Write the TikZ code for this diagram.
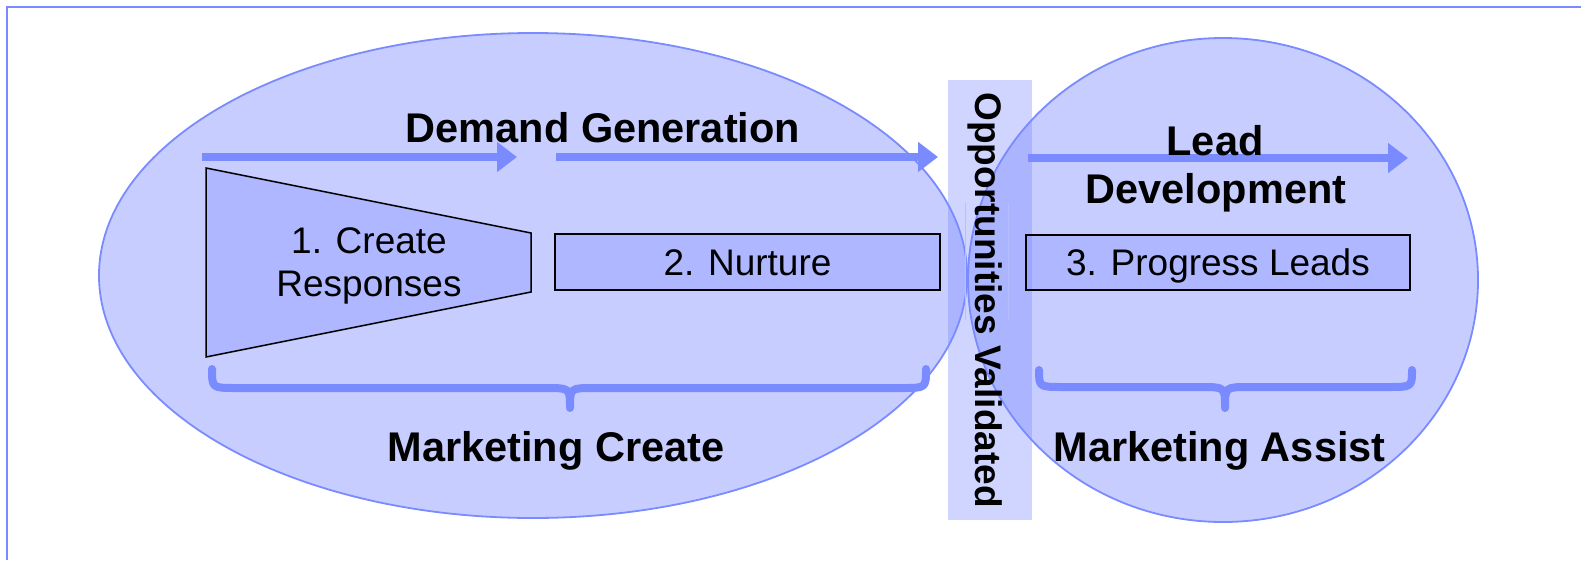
\documentclass[tikz,border=0pt]{standalone}
\usepackage{fontspec}
\setmainfont{Liberation Sans}
\usetikzlibrary{arrows.meta}
\definecolor{lineblue}{RGB}{122,138,255}
\tikzset{
  ringfill/.style={draw=lineblue, line width=1.8pt, fill=lineblue, fill opacity=0.42},
  bandfill/.style={fill=lineblue!36, draw=none},
  stagebox/.style={draw=black, line width=1.5pt, fill=lineblue, fill opacity=0.33, text opacity=1},
  flow/.style={draw=lineblue, line width=7.5pt, -{Triangle[length=20pt,width=29pt]}},
  bracket/.style={draw=lineblue, line width=8pt, line cap=round, line join=round},
  heading/.style={font=\bfseries\fontsize{41.5}{48}\selectfont, inner sep=0pt},
  plain/.style={font=\fontsize{37}{44}\selectfont, inner sep=0pt},
}
\begin{document}
\begin{tikzpicture}[x=1pt,y=-1pt]
\useasboundingbox (0,0) rectangle (1581,560);
% frame
\draw[lineblue, line width=2.2pt] (7,560) -- (7,7) -- (1581,7);
% vertical band behind the two areas
\path[bandfill] (948,80) rectangle (1032,520);
% the two areas
\path[ringfill] (533,275.5) ellipse [x radius=434pt, y radius=242.5pt];
\path[ringfill] (1223,280) ellipse [x radius=255pt, y radius=242pt];
\draw[lineblue!55, line width=0.8pt] (965,203) -- (965,320);
\draw[lineblue!55, line width=0.8pt] (1008,203) -- (1008,320);
% stages
\draw[stagebox] (206,168) -- (531,233) -- (531,292) -- (206,357) -- cycle;
\node[plain, anchor=base] (create) at (369,253) {1. Create};
\node[plain, anchor=base] (responses) at (369,296) {Responses};
\node[stagebox, plain, minimum width=385pt, minimum height=56pt, text height=26.5pt, text depth=0pt] (nurture) at (747.5,262) {2. Nurture};
\node[stagebox, plain, minimum width=384pt, minimum height=55pt, text height=26.5pt, text depth=0pt] (progress) at (1218,262.5) {3. Progress Leads};
% flow arrows
\coordinate (a1s) at (202,157);
\coordinate (a1e) at (517,157);
\coordinate (a2s) at (556,157);
\coordinate (a2e) at (938,157);
\coordinate (a3s) at (1028,158);
\coordinate (a3e) at (1408,158);
\draw[flow] (a1s) -- (a1e);
\draw[flow] (a2s) -- (a2e);
\draw[flow] (a3s) -- (a3e);
% braces
\draw[bracket] (212,369) .. controls (212,388) .. (236,388) -- (546,388)
  .. controls (570,388) .. (570,408) .. controls (570,388) .. (594,388)
  -- (902,388) .. controls (926,388) .. (926,369);
\draw[bracket] (1039,370) .. controls (1039,387) .. (1063,387) -- (1201,387)
  .. controls (1225,387) .. (1225,408) .. controls (1225,387) .. (1249,387)
  -- (1388,387) .. controls (1412,387) .. (1412,370);
% labels
\node[heading, anchor=base] (demand) at (603,142) {Demand Generation};
\node[heading, anchor=base] (lead) at (1215,155) {Lead};
\node[heading, anchor=base] (devel) at (1216,203) {Development};
\node[heading, anchor=base] (mcreate) at (556,461) {Marketing Create};
\node[heading, anchor=base] (massist) at (1219.5,461) {Marketing Assist};
\node[font=\bfseries\fontsize{37}{44}\selectfont, inner sep=0pt, rotate=-90, text height=26.5pt, text depth=0pt] (validated) at (989,300) {Opportunities Validated};
\end{tikzpicture}
\end{document}
